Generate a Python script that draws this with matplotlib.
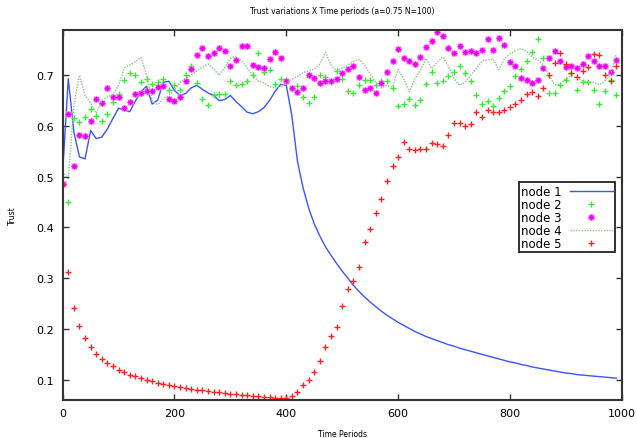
import numpy as np
import matplotlib
matplotlib.use("Agg")
import matplotlib.pyplot as plt

# time periods (every 10)
t = np.arange(0, 1000, 10)

# node 1 (solid line)
node1 = [0.510, 0.693, 0.588, 0.539, 0.535, 0.591, 0.575, 0.578, 0.594, 0.615,
         0.635, 0.631, 0.628, 0.649, 0.667, 0.678, 0.643, 0.651, 0.686, 0.688,
         0.670, 0.660, 0.664, 0.675, 0.680, 0.672, 0.665, 0.660, 0.650, 0.652,
         0.660, 0.648, 0.638, 0.627, 0.624, 0.628, 0.636, 0.650, 0.668, 0.682,
         0.680, 0.620, 0.530, 0.478, 0.438, 0.407, 0.383, 0.362, 0.345, 0.329,
         0.314, 0.300, 0.286, 0.274, 0.263, 0.253, 0.244, 0.235, 0.227, 0.220,
         0.213, 0.207, 0.201, 0.195, 0.190, 0.185, 0.181, 0.177, 0.173, 0.169,
         0.166, 0.162, 0.159, 0.156, 0.153, 0.150, 0.147, 0.144, 0.141, 0.138,
         0.135, 0.133, 0.130, 0.128, 0.125, 0.123, 0.121, 0.119, 0.117, 0.115,
         0.113, 0.112, 0.110, 0.109, 0.108, 0.107, 0.106, 0.105, 0.104, 0.103]

# node 2 (green +)
node2 = [0.490, 0.451, 0.615, 0.607, 0.618, 0.634, 0.620, 0.610, 0.624, 0.648,
         0.662, 0.690, 0.705, 0.700, 0.687, 0.692, 0.683, 0.687, 0.692, 0.670,
         0.680, 0.670, 0.700, 0.718, 0.685, 0.653, 0.642, 0.661, 0.662, 0.662,
         0.688, 0.680, 0.683, 0.688, 0.700, 0.743, 0.707, 0.711, 0.683, 0.693,
         0.690, 0.673, 0.678, 0.657, 0.646, 0.657, 0.701, 0.696, 0.686, 0.709,
         0.693, 0.668, 0.665, 0.681, 0.691, 0.691, 0.680, 0.688, 0.688, 0.674,
         0.639, 0.644, 0.653, 0.642, 0.652, 0.683, 0.706, 0.684, 0.688, 0.699,
         0.706, 0.718, 0.705, 0.688, 0.661, 0.644, 0.650, 0.639, 0.655, 0.668,
         0.678, 0.699, 0.712, 0.728, 0.745, 0.772, 0.733, 0.665, 0.665, 0.680,
         0.690, 0.704, 0.671, 0.686, 0.686, 0.671, 0.644, 0.668, 0.690, 0.660]

# node 3 (magenta *)
node3 = [0.485, 0.624, 0.521, 0.583, 0.581, 0.609, 0.654, 0.645, 0.675, 0.657,
         0.656, 0.636, 0.648, 0.663, 0.664, 0.669, 0.668, 0.677, 0.678, 0.654,
         0.649, 0.657, 0.688, 0.713, 0.740, 0.753, 0.738, 0.744, 0.754, 0.747,
         0.719, 0.730, 0.757, 0.758, 0.720, 0.716, 0.714, 0.732, 0.745, 0.734,
         0.688, 0.674, 0.667, 0.674, 0.701, 0.694, 0.684, 0.689, 0.689, 0.693,
         0.705, 0.712, 0.719, 0.696, 0.671, 0.675, 0.665, 0.685, 0.707, 0.728,
         0.751, 0.733, 0.727, 0.722, 0.735, 0.755, 0.768, 0.786, 0.777, 0.753,
         0.743, 0.758, 0.745, 0.747, 0.744, 0.750, 0.772, 0.749, 0.774, 0.760,
         0.726, 0.719, 0.694, 0.690, 0.685, 0.691, 0.714, 0.733, 0.747, 0.727,
         0.716, 0.718, 0.714, 0.722, 0.737, 0.728, 0.719, 0.719, 0.706, 0.729]

# node 4 (dotted line)
node4 = [0.510, 0.496, 0.640, 0.700, 0.660, 0.645, 0.625, 0.650, 0.657, 0.662,
         0.680, 0.714, 0.720, 0.726, 0.735, 0.700, 0.650, 0.642, 0.653, 0.660,
         0.670, 0.686, 0.693, 0.700, 0.708, 0.716, 0.722, 0.712, 0.700, 0.715,
         0.733, 0.737, 0.728, 0.715, 0.700, 0.688, 0.685, 0.678, 0.674, 0.678,
         0.685, 0.692, 0.697, 0.705, 0.708, 0.712, 0.722, 0.745, 0.720, 0.708,
         0.714, 0.720, 0.727, 0.731, 0.720, 0.703, 0.686, 0.675, 0.680, 0.677,
         0.711, 0.693, 0.667, 0.693, 0.710, 0.733, 0.713, 0.726, 0.736, 0.718,
         0.693, 0.680, 0.686, 0.700, 0.713, 0.728, 0.730, 0.732, 0.711, 0.732,
         0.742, 0.748, 0.752, 0.747, 0.735, 0.730, 0.720, 0.700, 0.681, 0.683,
         0.693, 0.699, 0.695, 0.689, 0.687, 0.686, 0.681, 0.689, 0.699, 0.742]

# node 5 (red +)
node5 = [0.485, 0.312, 0.242, 0.205, 0.182, 0.164, 0.151, 0.141, 0.133, 0.126,
         0.120, 0.115, 0.110, 0.107, 0.103, 0.100, 0.097, 0.094, 0.092, 0.089,
         0.087, 0.085, 0.083, 0.082, 0.080, 0.079, 0.077, 0.076, 0.075, 0.074,
         0.072, 0.071, 0.070, 0.069, 0.068, 0.067, 0.066, 0.065, 0.064, 0.063,
         0.063, 0.067, 0.076, 0.089, 0.100, 0.115, 0.136, 0.164, 0.186, 0.204,
         0.245, 0.278, 0.295, 0.322, 0.371, 0.397, 0.429, 0.456, 0.492, 0.521,
         0.539, 0.568, 0.555, 0.553, 0.554, 0.554, 0.567, 0.565, 0.561, 0.582,
         0.606, 0.606, 0.600, 0.604, 0.628, 0.617, 0.632, 0.628, 0.628, 0.632,
         0.637, 0.643, 0.651, 0.663, 0.667, 0.659, 0.674, 0.701, 0.724, 0.744,
         0.722, 0.705, 0.696, 0.709, 0.716, 0.742, 0.740, 0.700, 0.689, 0.719]

fig = plt.figure(figsize=(6.37, 4.39), dpi=100)
ax = fig.add_axes([0.0984, 0.0866, 0.8776, 0.8428])

h1, = ax.plot(t, node1, color="#3a55ff", lw=1.0, label="node 1")
h2, = ax.plot(t, node2, ls="none", marker="+", ms=5, mew=1.0, color="#33ee33", label="node 2")
h3a, = ax.plot(t, node3, ls="none", marker="s", ms=4.5, mec="none", mfc="#ff99ff")
h3b, = ax.plot(t, node3, ls="none", marker="x", ms=3.5, mew=1.0, color="#ee00ee")
h3c, = ax.plot(t, node3, ls="none", marker="+", ms=4.5, mew=1.0, color="#ee00ee")
h4, = ax.plot(t, node4, color="#8cc48c", lw=1.0, ls=(0, (1, 1)), label="node 4")
h5, = ax.plot(t, node5, ls="none", marker="+", ms=5, mew=1.0, color="#ff2222", label="node 5")

ax.set_xlim(0, 1000)
ax.set_ylim(0.06, 0.789)
ax.set_xticks([0, 200, 400, 600, 800, 1000])
ax.set_yticks([0.1, 0.2, 0.3, 0.4, 0.5, 0.6, 0.7])
ax.tick_params(direction="in", top=True, right=True, length=4, width=1,
               labelsize=8, color="#333333", pad=6)
for s in ax.spines.values():
    s.set_linewidth(1.5)
    s.set_color("#333333")

ax.set_title("Trust variations X Time periods (a=0.75 N=100)", fontsize=5.5, pad=12)
ax.set_xlabel("Time Periods", fontsize=5.5, labelpad=8)
ax.set_ylabel("Trust", fontsize=5.5, labelpad=14)

leg = ax.legend([h1, h2, (h3a, h3b, h3c), h4, h5],
                ["node 1", "node 2", "node 3", "node 4", "node 5"],
                loc="upper right", bbox_to_anchor=(0.988, 0.588),
                markerfirst=False, fontsize=8.5, fancybox=False, framealpha=1,
                edgecolor="#222222", handlelength=3.6, labelspacing=0.0,
                borderpad=0.2, handletextpad=0.7, borderaxespad=0)
leg.get_frame().set_linewidth(1.3)

fig.savefig("out.png", dpi=100)
